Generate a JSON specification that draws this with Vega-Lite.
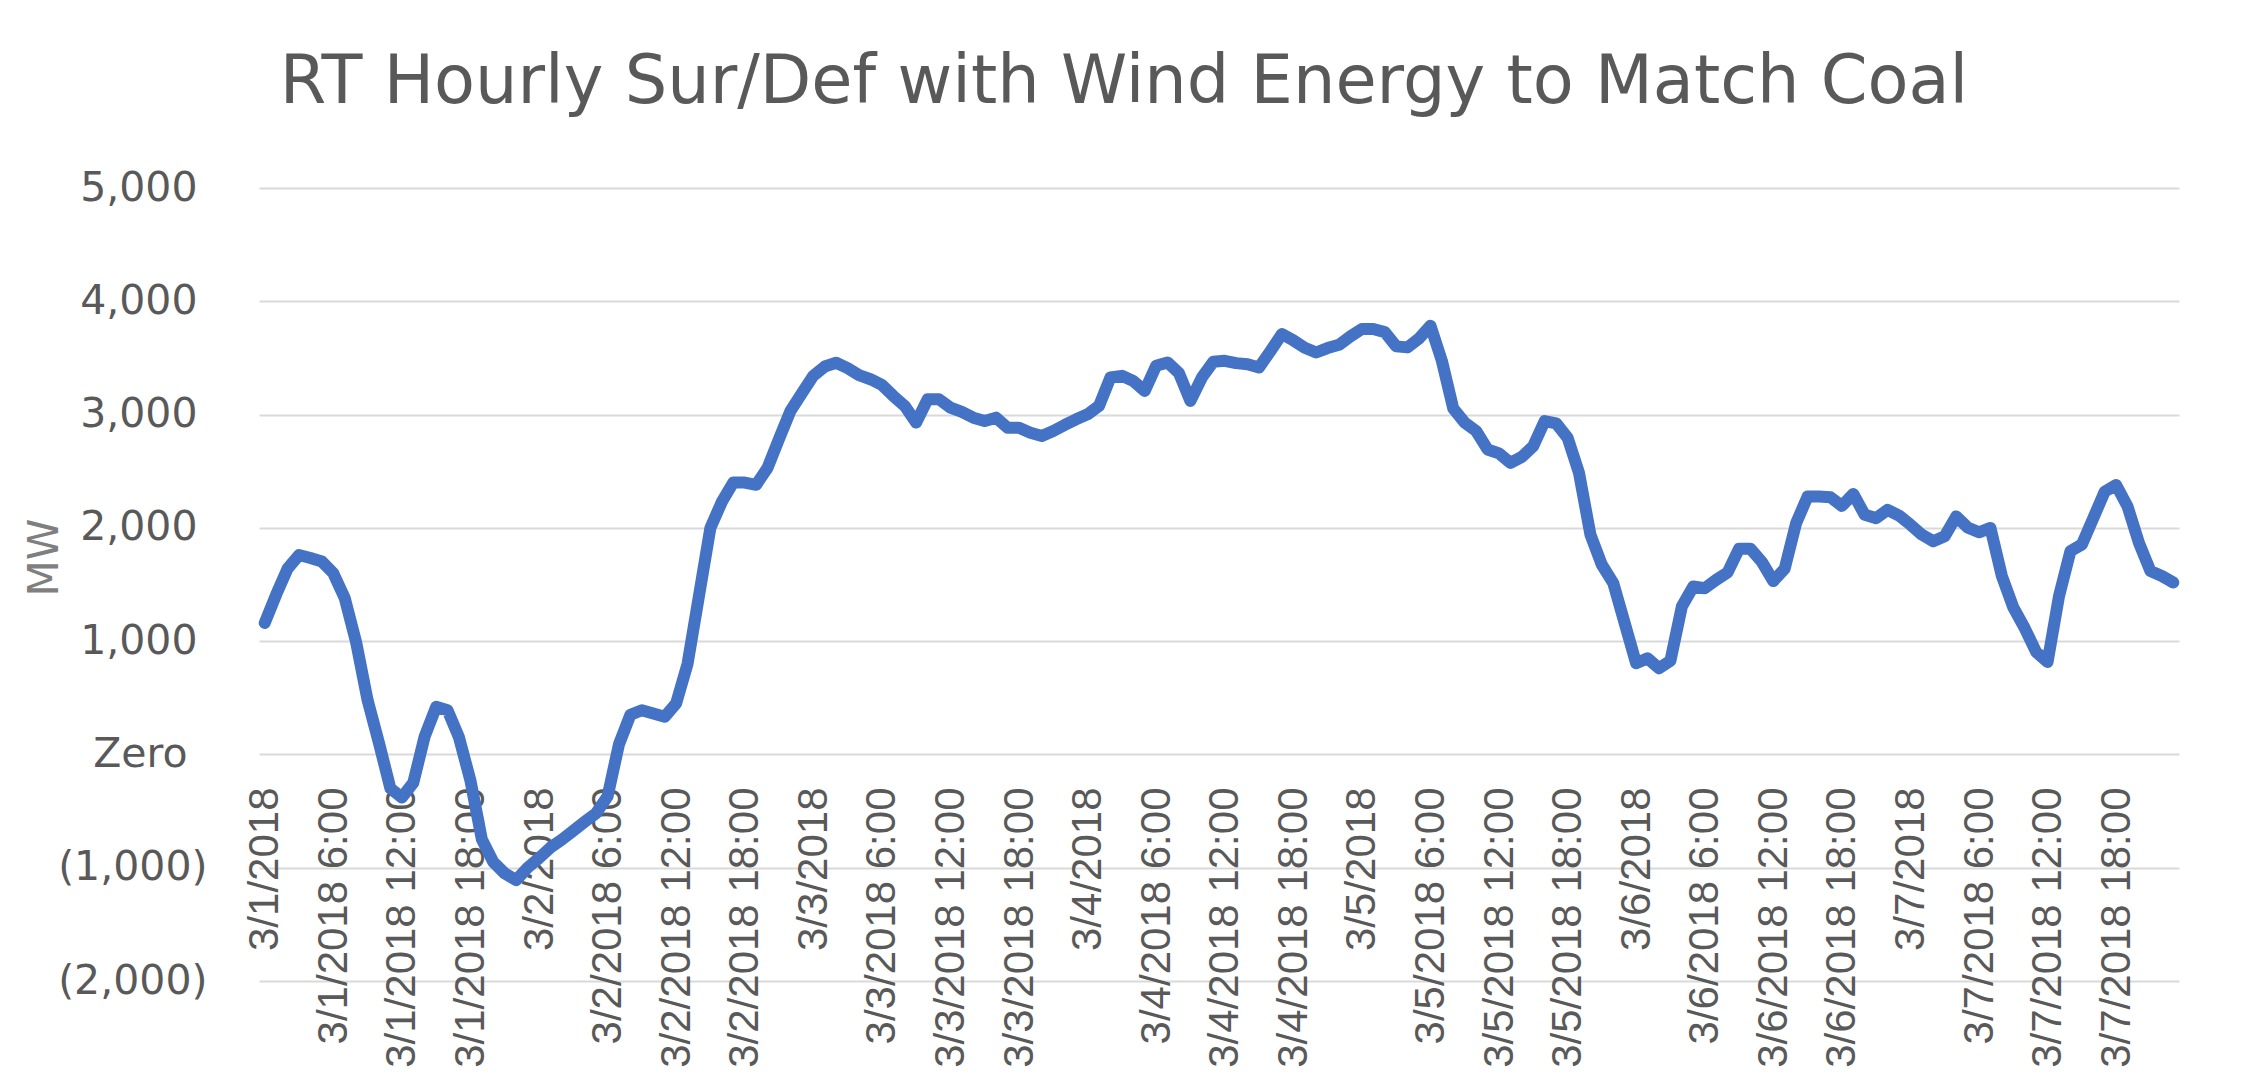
{
  "$schema": "https://vega.github.io/schema/vega-lite/v6.json",
  "width": 1920,
  "height": 793,
  "autosize": {"type": "none"},
  "padding": {"left": 259, "top": 188, "right": 70, "bottom": 106},
  "background": "white",
  "view": {"stroke": null},
  "title": {
    "text": "RT Hourly Sur/Def with Wind Energy to Match Coal",
    "font": "DejaVu Sans",
    "fontSize": 67,
    "fontWeight": "normal",
    "color": "#595959",
    "anchor": "middle",
    "frame": "group",
    "baseline": "alphabetic",
    "offset": -3,
    "dx": -95
  },
  "data": {
    "values": [
      {"t": "3/1/2018", "v": 1160}, {"t": "3/1/2018 1:00", "v": 1410}, {"t": "3/1/2018 2:00", "v": 1640}, {"t": "3/1/2018 3:00", "v": 1760},
      {"t": "3/1/2018 4:00", "v": 1734}, {"t": "3/1/2018 5:00", "v": 1703}, {"t": "3/1/2018 6:00", "v": 1600}, {"t": "3/1/2018 7:00", "v": 1380},
      {"t": "3/1/2018 8:00", "v": 990}, {"t": "3/1/2018 9:00", "v": 480}, {"t": "3/1/2018 10:00", "v": 100}, {"t": "3/1/2018 11:00", "v": -300},
      {"t": "3/1/2018 12:00", "v": -380}, {"t": "3/1/2018 13:00", "v": -250}, {"t": "3/1/2018 14:00", "v": 160}, {"t": "3/1/2018 15:00", "v": 420},
      {"t": "3/1/2018 16:00", "v": 390}, {"t": "3/1/2018 17:00", "v": 150}, {"t": "3/1/2018 18:00", "v": -230}, {"t": "3/1/2018 19:00", "v": -750},
      {"t": "3/1/2018 20:00", "v": -950}, {"t": "3/1/2018 21:00", "v": -1050}, {"t": "3/1/2018 22:00", "v": -1110}, {"t": "3/1/2018 23:00", "v": -1000},
      {"t": "3/2/2018", "v": -915}, {"t": "3/2/2018 1:00", "v": -822}, {"t": "3/2/2018 2:00", "v": -752}, {"t": "3/2/2018 3:00", "v": -673},
      {"t": "3/2/2018 4:00", "v": -595}, {"t": "3/2/2018 5:00", "v": -519}, {"t": "3/2/2018 6:00", "v": -370}, {"t": "3/2/2018 7:00", "v": 90},
      {"t": "3/2/2018 8:00", "v": 350}, {"t": "3/2/2018 9:00", "v": 390}, {"t": "3/2/2018 10:00", "v": 361}, {"t": "3/2/2018 11:00", "v": 332},
      {"t": "3/2/2018 12:00", "v": 450}, {"t": "3/2/2018 13:00", "v": 800}, {"t": "3/2/2018 14:00", "v": 1400}, {"t": "3/2/2018 15:00", "v": 2000},
      {"t": "3/2/2018 16:00", "v": 2230}, {"t": "3/2/2018 17:00", "v": 2400}, {"t": "3/2/2018 18:00", "v": 2400}, {"t": "3/2/2018 19:00", "v": 2380},
      {"t": "3/2/2018 20:00", "v": 2530}, {"t": "3/2/2018 21:00", "v": 2784}, {"t": "3/2/2018 22:00", "v": 3032}, {"t": "3/2/2018 23:00", "v": 3188},
      {"t": "3/3/2018", "v": 3342}, {"t": "3/3/2018 1:00", "v": 3424}, {"t": "3/3/2018 2:00", "v": 3457}, {"t": "3/3/2018 3:00", "v": 3410},
      {"t": "3/3/2018 4:00", "v": 3348}, {"t": "3/3/2018 5:00", "v": 3312}, {"t": "3/3/2018 6:00", "v": 3262}, {"t": "3/3/2018 7:00", "v": 3165},
      {"t": "3/3/2018 8:00", "v": 3076}, {"t": "3/3/2018 9:00", "v": 2929}, {"t": "3/3/2018 10:00", "v": 3135}, {"t": "3/3/2018 11:00", "v": 3135},
      {"t": "3/3/2018 12:00", "v": 3061}, {"t": "3/3/2018 13:00", "v": 3023}, {"t": "3/3/2018 14:00", "v": 2973}, {"t": "3/3/2018 15:00", "v": 2943},
      {"t": "3/3/2018 16:00", "v": 2973}, {"t": "3/3/2018 17:00", "v": 2884}, {"t": "3/3/2018 18:00", "v": 2884}, {"t": "3/3/2018 19:00", "v": 2840},
      {"t": "3/3/2018 20:00", "v": 2811}, {"t": "3/3/2018 21:00", "v": 2855}, {"t": "3/3/2018 22:00", "v": 2908}, {"t": "3/3/2018 23:00", "v": 2958},
      {"t": "3/4/2018", "v": 3002}, {"t": "3/4/2018 1:00", "v": 3076}, {"t": "3/4/2018 2:00", "v": 3327}, {"t": "3/4/2018 3:00", "v": 3342},
      {"t": "3/4/2018 4:00", "v": 3297}, {"t": "3/4/2018 5:00", "v": 3209}, {"t": "3/4/2018 6:00", "v": 3430}, {"t": "3/4/2018 7:00", "v": 3460},
      {"t": "3/4/2018 8:00", "v": 3365}, {"t": "3/4/2018 9:00", "v": 3120}, {"t": "3/4/2018 10:00", "v": 3327}, {"t": "3/4/2018 11:00", "v": 3466},
      {"t": "3/4/2018 12:00", "v": 3475}, {"t": "3/4/2018 13:00", "v": 3454}, {"t": "3/4/2018 14:00", "v": 3445}, {"t": "3/4/2018 15:00", "v": 3416},
      {"t": "3/4/2018 16:00", "v": 3560}, {"t": "3/4/2018 17:00", "v": 3711}, {"t": "3/4/2018 18:00", "v": 3655}, {"t": "3/4/2018 19:00", "v": 3590},
      {"t": "3/4/2018 20:00", "v": 3548}, {"t": "3/4/2018 21:00", "v": 3587}, {"t": "3/4/2018 22:00", "v": 3616}, {"t": "3/4/2018 23:00", "v": 3690},
      {"t": "3/5/2018", "v": 3755}, {"t": "3/5/2018 1:00", "v": 3755}, {"t": "3/5/2018 2:00", "v": 3728}, {"t": "3/5/2018 3:00", "v": 3602},
      {"t": "3/5/2018 4:00", "v": 3593}, {"t": "3/5/2018 5:00", "v": 3672}, {"t": "3/5/2018 6:00", "v": 3785}, {"t": "3/5/2018 7:00", "v": 3475},
      {"t": "3/5/2018 8:00", "v": 3053}, {"t": "3/5/2018 9:00", "v": 2929}, {"t": "3/5/2018 10:00", "v": 2855}, {"t": "3/5/2018 11:00", "v": 2692},
      {"t": "3/5/2018 12:00", "v": 2657}, {"t": "3/5/2018 13:00", "v": 2574}, {"t": "3/5/2018 14:00", "v": 2627}, {"t": "3/5/2018 15:00", "v": 2722},
      {"t": "3/5/2018 16:00", "v": 2943}, {"t": "3/5/2018 17:00", "v": 2923}, {"t": "3/5/2018 18:00", "v": 2796}, {"t": "3/5/2018 19:00", "v": 2486},
      {"t": "3/5/2018 20:00", "v": 1940}, {"t": "3/5/2018 21:00", "v": 1674}, {"t": "3/5/2018 22:00", "v": 1512}, {"t": "3/5/2018 23:00", "v": 1158},
      {"t": "3/6/2018", "v": 804}, {"t": "3/6/2018 1:00", "v": 848}, {"t": "3/6/2018 2:00", "v": 760}, {"t": "3/6/2018 3:00", "v": 827},
      {"t": "3/6/2018 4:00", "v": 1305}, {"t": "3/6/2018 5:00", "v": 1482}, {"t": "3/6/2018 6:00", "v": 1467}, {"t": "3/6/2018 7:00", "v": 1541},
      {"t": "3/6/2018 8:00", "v": 1606}, {"t": "3/6/2018 9:00", "v": 1815}, {"t": "3/6/2018 10:00", "v": 1815}, {"t": "3/6/2018 11:00", "v": 1700},
      {"t": "3/6/2018 12:00", "v": 1530}, {"t": "3/6/2018 13:00", "v": 1640}, {"t": "3/6/2018 14:00", "v": 2042}, {"t": "3/6/2018 15:00", "v": 2276},
      {"t": "3/6/2018 16:00", "v": 2276}, {"t": "3/6/2018 17:00", "v": 2270}, {"t": "3/6/2018 18:00", "v": 2194}, {"t": "3/6/2018 19:00", "v": 2299},
      {"t": "3/6/2018 20:00", "v": 2115}, {"t": "3/6/2018 21:00", "v": 2086}, {"t": "3/6/2018 22:00", "v": 2159}, {"t": "3/6/2018 23:00", "v": 2109},
      {"t": "3/7/2018", "v": 2028}, {"t": "3/7/2018 1:00", "v": 1940}, {"t": "3/7/2018 2:00", "v": 1882}, {"t": "3/7/2018 3:00", "v": 1926},
      {"t": "3/7/2018 4:00", "v": 2101}, {"t": "3/7/2018 5:00", "v": 2004}, {"t": "3/7/2018 6:00", "v": 1961}, {"t": "3/7/2018 7:00", "v": 1999},
      {"t": "3/7/2018 8:00", "v": 1575}, {"t": "3/7/2018 9:00", "v": 1298}, {"t": "3/7/2018 10:00", "v": 1114}, {"t": "3/7/2018 11:00", "v": 904},
      {"t": "3/7/2018 12:00", "v": 816}, {"t": "3/7/2018 13:00", "v": 1397}, {"t": "3/7/2018 14:00", "v": 1794}, {"t": "3/7/2018 15:00", "v": 1853},
      {"t": "3/7/2018 16:00", "v": 2086}, {"t": "3/7/2018 17:00", "v": 2320}, {"t": "3/7/2018 18:00", "v": 2378}, {"t": "3/7/2018 19:00", "v": 2188},
      {"t": "3/7/2018 20:00", "v": 1867}, {"t": "3/7/2018 21:00", "v": 1619}, {"t": "3/7/2018 22:00", "v": 1575}, {"t": "3/7/2018 23:00", "v": 1517}
    ]
  },
  "mark": {"type": "line", "color": "#4472C4", "strokeWidth": 12, "strokeJoin": "round", "strokeCap": "round"},
  "encoding": {
    "x": {
      "field": "t",
      "type": "ordinal",
      "sort": null,
      "scale": {"type": "point", "padding": 0.5},
      "axis": {
        "orient": "bottom",
        "offset": -227,
        "title": null,
        "domain": false,
        "ticks": false,
        "tickSize": 0,
        "grid": false,
        "labelAngle": 270,
        "labelAlign": "right",
        "labelBaseline": "middle",
        "labelPadding": 33,
        "labelFont": "Liberation Sans",
        "labelFontSize": 42,
        "labelColor": "#595959",
        "labelLimit": 0,
        "labelOverlap": false,
        "labelBound": false,
        "labelFlush": false,
        "values": ["3/1/2018", "3/1/2018 6:00", "3/1/2018 12:00", "3/1/2018 18:00",
                   "3/2/2018", "3/2/2018 6:00", "3/2/2018 12:00", "3/2/2018 18:00",
                   "3/3/2018", "3/3/2018 6:00", "3/3/2018 12:00", "3/3/2018 18:00",
                   "3/4/2018", "3/4/2018 6:00", "3/4/2018 12:00", "3/4/2018 18:00",
                   "3/5/2018", "3/5/2018 6:00", "3/5/2018 12:00", "3/5/2018 18:00",
                   "3/6/2018", "3/6/2018 6:00", "3/6/2018 12:00", "3/6/2018 18:00",
                   "3/7/2018", "3/7/2018 6:00", "3/7/2018 12:00", "3/7/2018 18:00"]
      }
    },
    "y": {
      "field": "v",
      "type": "quantitative",
      "scale": {"domain": [-2000, 5000], "nice": false, "zero": false},
      "axis": {
        "values": [-2000, -1000, 0, 1000, 2000, 3000, 4000, 5000],
        "domain": false,
        "ticks": false,
        "tickSize": 0,
        "grid": true,
        "gridColor": "#d9d9d9",
        "gridWidth": 2,
        "labelFont": "DejaVu Sans",
        "labelFontSize": 41,
        "labelColor": "#595959",
        "labelPadding": {"condition": [{"test": "datum.value == 0", "value": 72}, {"test": "datum.value > 0", "value": 62}], "value": 52},
        "labelAlign": "right",
        "labelBaseline": "middle",
        "labelExpr": "datum.value == 0 ? 'Zero' : (datum.value < 0 ? '(' + format(-datum.value, ',') + ')' : format(datum.value, ','))",
        "title": "MW",
        "titleFont": "DejaVu Sans",
        "titleFontSize": 42,
        "titleFontWeight": "normal",
        "titleColor": "#7f7f7f",
        "titleAngle": 270,
        "titleX": -215,
        "titleY": 369,
        "titleAlign": "center",
        "titleBaseline": "middle"
      }
    }
  }
}
